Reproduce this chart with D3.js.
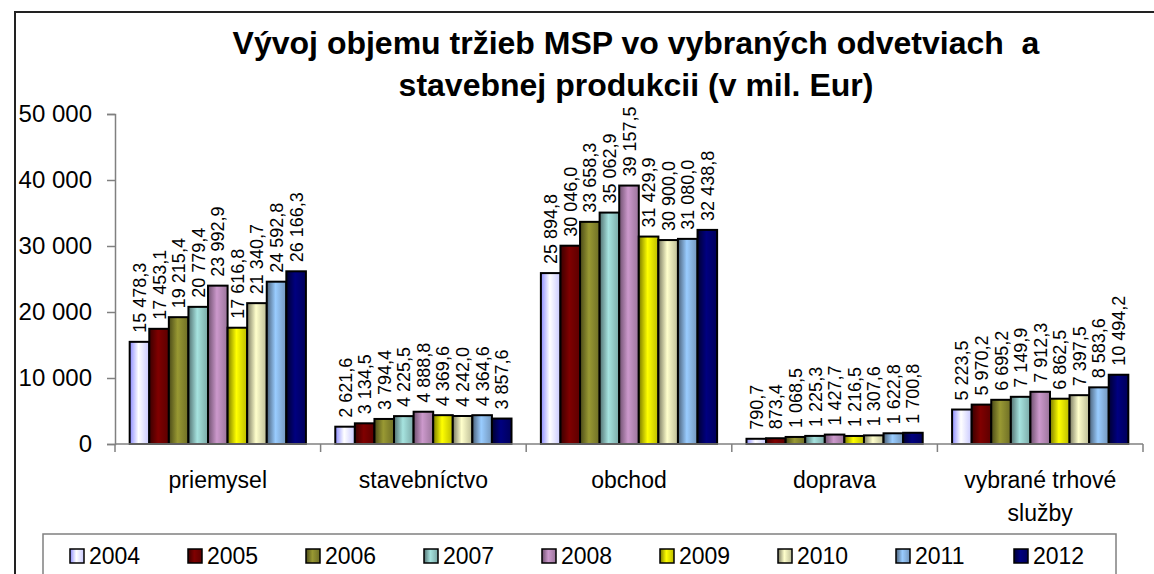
<!DOCTYPE html>
<html>
<head>
<meta charset="utf-8">
<script src="https://cdn.jsdelivr.net/npm/d3@7"></script>
<style>
  body { margin: 0; background: #fff; }
  svg { display: block; font-family: Arial, "Liberation Sans", sans-serif; }
</style>
</head>
<body>
<svg id="chart" width="1154" height="574"></svg>
<script>
// data
var categories = ["priemysel", "stavebníctvo", "obchod", "doprava", "vybrané trhové služby"];
var years = ["2004", "2005", "2006", "2007", "2008", "2009", "2010", "2011", "2012"];
var priemysel = [15478.3, 17453.1, 19215.4, 20779.4, 23992.9, 17616.8, 21340.7, 24592.8, 26166.3];
var stavebnictvo = [2621.6, 3134.5, 3794.4, 4225.5, 4888.8, 4369.6, 4242.0, 4364.6, 3857.6];
var obchod = [25894.8, 30046.0, 33658.3, 35062.9, 39157.5, 31429.9, 30900.0, 31080.0, 32438.8];
var doprava = [790.7, 873.4, 1068.5, 1225.3, 1427.7, 1216.5, 1307.6, 1622.8, 1700.8];
var sluzby = [5223.5, 5970.2, 6695.2, 7149.9, 7912.3, 6862.5, 7397.5, 8583.6, 10494.2];
var yTicks = [0, 10000, 20000, 30000, 40000, 50000];
var title = ["Vývoj objemu tržieb MSP vo vybraných odvetviach  a", "stavebnej produkcii (v mil. Eur)"];

var values = [priemysel, stavebnictvo, obchod, doprava, sluzby];

// excel-ish shading per year: [left edge, centre, right edge]
var shades = [
    ["#8c8cff", "#ffffff", "#c8c8ff"],
    ["#3a0000", "#800000", "#5c0000"],
    ["#4a4a18", "#999933", "#6e6e26"],
    ["#527070", "#a6e3df", "#7aa8a6"],
    ["#6e506e", "#cc99cc", "#9a749a"],
    ["#7a7a00", "#ffff00", "#baba00"],
    ["#7a7a62", "#ffffcc", "#bcbc96"],
    ["#4a6078", "#99ccff", "#7396bc"],
    ["#000030", "#000080", "#00005a"]
];

var svg = d3.select("#chart");
var defs = svg.append("defs");
shades.forEach(function(s, i) {
    var g = defs.append("linearGradient")
        .attr("id", "grad" + i)
        .attr("x1", "0%").attr("x2", "100%")
        .attr("y1", "0%").attr("y2", "0%");
    g.append("stop").attr("offset", "0%").attr("stop-color", s[0]);
    g.append("stop").attr("offset", "45%").attr("stop-color", s[1]);
    g.append("stop").attr("offset", "100%").attr("stop-color", s[2]);
});

// outer frame (only left and top visible in the crop)
svg.append("path")
    .attr("d", "M15,574 V12 H1154")
    .attr("fill", "none")
    .attr("stroke", "#222")
    .attr("stroke-width", 2);

var plotL = 115, plotR = 1143, plotT = 114, plotB = 444;

var x0 = d3.scaleBand().domain(categories).range([plotL, plotR]).paddingInner(0).paddingOuter(0);
var x1 = d3.scaleBand().domain(years).range([0, x0.bandwidth()]).paddingInner(0).paddingOuter(0.75);
var y = d3.scaleLinear().domain([0, 50000]).range([plotB, plotT]);

var spaceFmt = function(v) { return d3.format(",")(v).replace(/,/g, " "); };
var labelFmt = function(v) { return d3.format(",.1f")(v).replace(/,/g, " ").replace(".", ","); };

// title
svg.append("g").selectAll("text")
    .data(title)
    .enter().append("text")
    .attr("x", 636)
    .attr("y", function(d, i) { return 54 + i * 42; })
    .attr("text-anchor", "middle")
    .style("font-size", "32px")
    .style("font-weight", "bold")
    .style("white-space", "pre")
    .text(function(d) { return d; });

// y axis
var yAxis = svg.append("g")
    .attr("transform", "translate(" + plotL + ",0)")
    .call(d3.axisLeft(y).tickValues(yTicks).tickSize(8).tickPadding(15).tickFormat(spaceFmt));
yAxis.select(".domain").attr("stroke", "#808080").attr("stroke-width", 1.5);
yAxis.selectAll(".tick line").attr("stroke", "#808080").attr("stroke-width", 1.5);
yAxis.selectAll(".tick text")
    .attr("fill", "#000")
    .style("font-size", "24px")
    .style("font-family", "Arial, 'Liberation Sans', sans-serif");

// bars
var groups = svg.append("g").selectAll("g")
    .data(categories)
    .enter().append("g")
    .attr("transform", function(d) { return "translate(" + x0(d) + ",0)"; });

var rows = function(d, ci) {
    return years.map(function(yr, i) { return {year: yr, i: i, v: values[ci][i]}; });
};

groups.selectAll("rect")
    .data(rows)
    .enter().append("rect")
    .attr("x", function(d) { return x1(d.year); })
    .attr("y", function(d) { return y(d.v); })
    .attr("width", x1.bandwidth())
    .attr("height", function(d) { return plotB - y(d.v); })
    .attr("fill", function(d) { return "url(#grad" + d.i + ")"; })
    .attr("stroke", "#000")
    .attr("stroke-width", 2);

groups.selectAll("text.val")
    .data(rows)
    .enter().append("text")
    .attr("class", "val")
    .attr("transform", function(d) {
        return "translate(" + (x1(d.year) + x1.bandwidth() / 2 + 6.5) + "," + (y(d.v) - 9) + ") rotate(-90)";
    })
    .style("font-size", "18px")
    .text(function(d) { return labelFmt(d.v); });

// x axis
var xAxis = svg.append("g")
    .attr("transform", "translate(0," + plotB + ")");
xAxis.append("line")
    .attr("x1", plotL).attr("x2", plotR)
    .attr("stroke", "#808080").attr("stroke-width", 1.5);
xAxis.selectAll("line.tk")
    .data(categories.concat(["end"]))
    .enter().append("line")
    .attr("class", "tk")
    .attr("x1", function(d, i) { return plotL + i * x0.step(); })
    .attr("x2", function(d, i) { return plotL + i * x0.step(); })
    .attr("y1", 0).attr("y2", 8)
    .attr("stroke", "#808080").attr("stroke-width", 1.5);

var catLabels = svg.append("g").selectAll("text")
    .data(categories)
    .enter().append("text")
    .attr("x", function(d) { return x0(d) + x0.bandwidth() / 2; })
    .attr("y", 488)
    .attr("text-anchor", "middle")
    .style("font-size", "23px");

// wrap long category names the way the spreadsheet did
catLabels.each(function(d) {
    var t = d3.select(this);
    var words = d.split(" ");
    var lines = [], line = [];
    words.forEach(function(w) {
        line.push(w);
        t.text(line.join(" "));
        if (this.getComputedTextLength() > x0.bandwidth() - 10 && line.length > 1) {
            line.pop();
            lines.push(line.join(" "));
            line = [w];
        }
    }, this);
    lines.push(line.join(" "));
    t.text(null);
    lines.forEach(function(l, i) {
        t.append("tspan")
            .attr("x", x0(d) + x0.bandwidth() / 2)
            .attr("dy", i === 0 ? 0 : 33)
            .text(l);
    });
});

// legend
svg.append("rect")
    .attr("x", 43).attr("y", 534)
    .attr("width", 1116 - 43).attr("height", 60)
    .attr("fill", "#fff")
    .attr("stroke", "#808080")
    .attr("stroke-width", 1.5);

var legendX = d3.scalePoint().domain(years).range([70, 1014]);
var legend = svg.append("g").selectAll("g")
    .data(years)
    .enter().append("g")
    .attr("transform", function(d) { return "translate(" + legendX(d) + ",556)"; });
legend.append("rect")
    .attr("x", 0).attr("y", -7)
    .attr("width", 14).attr("height", 14)
    .attr("fill", function(d, i) { return "url(#grad" + i + ")"; })
    .attr("stroke", "#000")
    .attr("stroke-width", 1.5);
legend.append("text")
    .attr("x", 19)
    .attr("y", 8)
    .style("font-size", "23px")
    .text(function(d) { return d; });
</script>
</body>
</html>
